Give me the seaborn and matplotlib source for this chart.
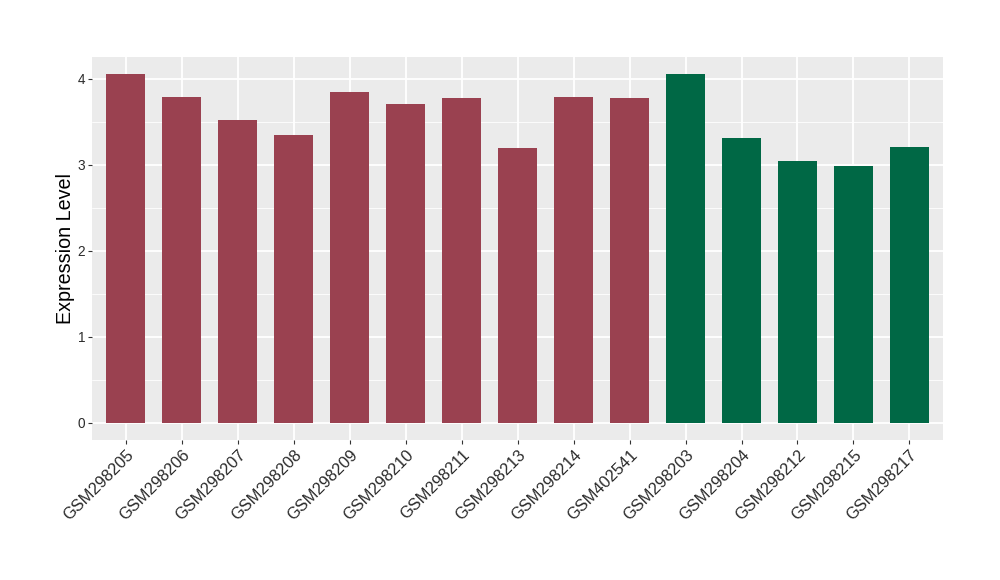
import matplotlib
matplotlib.use("Agg")
import matplotlib.pyplot as plt
import seaborn as sns
import pandas as pd
from matplotlib.ticker import MultipleLocator

samples = ["GSM298205", "GSM298206", "GSM298207", "GSM298208", "GSM298209",
           "GSM298210", "GSM298211", "GSM298213", "GSM298214", "GSM402541",
           "GSM298203", "GSM298204", "GSM298212", "GSM298215", "GSM298217"]
values = [4.05, 3.79, 3.515, 3.35, 3.84, 3.71, 3.77, 3.19, 3.79, 3.78,
          4.05, 3.315, 3.04, 2.98, 3.20]
groups = ["A"] * 10 + ["B"] * 5
palette = {"A": "#9A4150", "B": "#006845"}

df = pd.DataFrame({"sample": samples, "value": values, "group": groups})

sns.set_theme(style="darkgrid")
plt.rcParams["font.family"] = ["Liberation Sans", "DejaVu Sans"]

fig = plt.figure(figsize=(10, 5.8), dpi=100)
ax = fig.add_axes([0.0923, 0.2414, 0.8507, 0.6603])
sns.barplot(data=df, x="sample", y="value", hue="group", palette=palette,
            dodge=False, width=0.7, legend=False, ax=ax, saturation=1,
            linewidth=0, edgecolor="none")

ax.set_facecolor("#EBEBEB")
ax.set_xlim(-0.6, len(samples) - 0.4)
ax.set_ylim(-0.2025, 4.2525)
ax.yaxis.set_major_locator(MultipleLocator(1))
ax.yaxis.set_minor_locator(MultipleLocator(0.5))
ax.grid(which="major", color="white", linewidth=1.3)
ax.grid(which="minor", axis="y", color="white", linewidth=0.6)
ax.set_axisbelow(True)
for s in ax.spines.values():
    s.set_visible(False)

ax.tick_params(axis="both", which="major", length=3, width=0.8, color="#333333",
               labelcolor="#2b2b2b", pad=2, bottom=True, left=True)
ax.tick_params(axis="y", which="major", labelsize=9.8)
ax.tick_params(axis="x", which="major", labelsize=11.8)
ax.tick_params(axis="y", which="minor", length=0, left=False)
plt.setp(ax.get_xticklabels(), rotation=45, ha="right", rotation_mode="anchor")
ax.set_xlabel("")
ax.set_ylabel("Expression Level", fontsize=14.2, color="black", labelpad=2)

fig.savefig("out.png", dpi=100)
